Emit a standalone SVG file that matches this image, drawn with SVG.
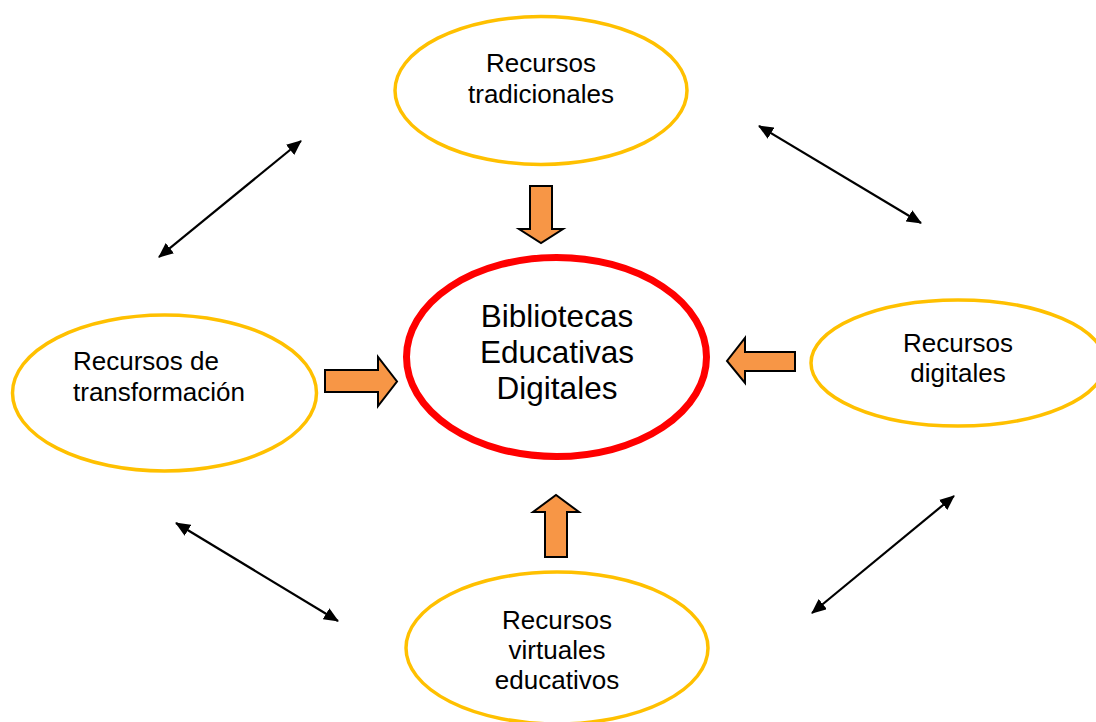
<svg xmlns="http://www.w3.org/2000/svg" width="1096" height="722" viewBox="0 0 1096 722">
<style>
.res{fill:#FFFFFF;stroke:#FFC000;stroke-width:3.5}
.main{fill:#FFFFFF;stroke:#FF0000;stroke-width:7}
.lbl{font-family:"Liberation Sans",Arial,sans-serif;font-size:26px;fill:#000000}
.big{font-family:"Liberation Sans",Arial,sans-serif;font-size:31.5px;fill:#000000}
.blk{fill:#F79646;stroke:#000000;stroke-width:2;stroke-linejoin:miter}
.dbl{stroke:#000000;stroke-width:2.2;fill:none;marker-start:url(#ah);marker-end:url(#ah)}
</style>
<defs>
<marker id="ah" markerUnits="userSpaceOnUse" markerWidth="15" markerHeight="13" refX="14" refY="6.5" orient="auto-start-reverse" viewBox="0 0 15 13">
<path d="M0,0 L15,6.5 L0,13 z" fill="#000000"/>
</marker>
</defs>
<rect width="1096" height="722" fill="#FFFFFF"/>

<g id="tradicionales">
<ellipse class="res" cx="541" cy="90.5" rx="146" ry="74"/>
<text class="lbl" text-anchor="middle"><tspan x="541" y="72">Recursos</tspan><tspan x="541" y="103">tradicionales</tspan></text>
</g>

<g id="bibliotecas">
<ellipse class="main" cx="556.5" cy="357" rx="150" ry="99.5"/>
<text class="big" text-anchor="middle"><tspan x="557" y="327">Bibliotecas</tspan><tspan x="557" y="363">Educativas</tspan><tspan x="557" y="399">Digitales</tspan></text>
</g>

<g id="transformacion">
<ellipse class="res" cx="164.5" cy="393" rx="152" ry="78"/>
<text class="lbl"><tspan x="73" y="370">Recursos de</tspan><tspan x="73" y="401">transformación</tspan></text>
</g>

<g id="digitales">
<ellipse class="res" cx="958" cy="363" rx="147" ry="63"/>
<text class="lbl" text-anchor="middle"><tspan x="958" y="352">Recursos</tspan><tspan x="958" y="382">digitales</tspan></text>
</g>

<g id="virtuales">
<ellipse class="res" cx="557" cy="648" rx="151" ry="76"/>
<text class="lbl" text-anchor="middle"><tspan x="557" y="629">Recursos</tspan><tspan x="557" y="659">virtuales</tspan><tspan x="557" y="689">educativos</tspan></text>
</g>

<g id="connectors">
<polygon class="blk" points="530,186 552,186 552,229 563,229 541,243 519,229 530,229"/>
<polygon class="blk" points="795,352 745,352 745,338 727,361 745,383 745,371 795,371"/>
<polygon class="blk" points="325,370 378,370 378,357 397,381.5 378,406 378,392 325,392"/>
<polygon class="blk" points="545,557 545,512 533,512 556,495 579,512 567,512 567,557"/>
<line class="dbl" x1="159" y1="257" x2="301" y2="141"/>
<line class="dbl" x1="759" y1="126" x2="921" y2="223"/>
<line class="dbl" x1="176" y1="523" x2="338" y2="621"/>
<line class="dbl" x1="812" y1="613" x2="954" y2="496"/>
</g>
</svg>
